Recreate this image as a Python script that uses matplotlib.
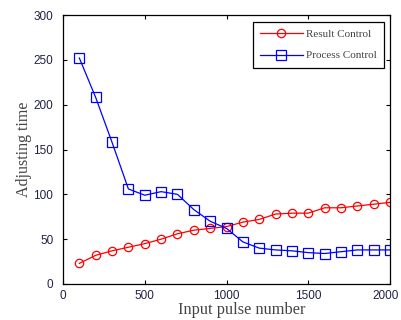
import matplotlib
matplotlib.use("Agg")
import matplotlib.pyplot as plt
from matplotlib.transforms import ScaledTranslation

x = [100, 200, 300, 400, 500, 600, 700, 800, 900, 1000,
     1100, 1200, 1300, 1400, 1500, 1600, 1700, 1800, 1900, 2000]
result_control = [23, 32, 37, 41, 45, 50, 56, 60, 62, 64,
                  69, 72, 78, 79, 79, 85, 85, 87, 89, 91]
process_control = [252, 208, 158, 106, 99, 103, 100, 83, 70, 62,
                   47, 40, 38, 37, 35, 34, 36, 38, 38, 38]
xticks = [0, 500, 1000, 1500, 2000]
yticks = [0, 50, 100, 150, 200, 250, 300]

W, H = 401, 320
fig = plt.figure(figsize=(W/100, H/100), dpi=100)
ax = fig.add_axes([63/W, 1-284/H, (390-63)/W, (284-15)/H])

ax.plot(x, result_control, color='red', marker='o', markersize=6,
        markerfacecolor='none', markeredgewidth=0.9, linewidth=0.9, label='Result Control')
ax.plot(x, process_control, color='blue', marker='s', markersize=6.5,
        markerfacecolor='none', markeredgewidth=0.9, linewidth=0.9, label='Process Control')

ax.set_xlim(0, 2000)
ax.set_ylim(0, 300)
ax.set_xticks(xticks)
ax.set_yticks(yticks)
ax.tick_params(direction='in', top=True, right=True, length=3, width=0.8,
               labelsize=8.5, colors='black')
ax.tick_params(axis='y', pad=7)
ax.tick_params(axis='x', pad=4)
for lab in ax.get_xticklabels() + ax.get_yticklabels():
    lab.set_family('Liberation Sans')
    lab.set_color('#222244')
# keep the last x tick label inside the picture
last = ax.get_xticklabels()[-1]
last.set_transform(last.get_transform() + ScaledTranslation(-4/100, 0, fig.dpi_scale_trans))
for s in ax.spines.values():
    s.set_linewidth(0.9)

ax.set_ylabel('Adjusting time', family='Liberation Serif', fontsize=11.5,
              color='#444444', labelpad=1)

fig.text(241.5/W, 1 - 310/H, 'Input pulse number', family='Liberation Serif',
         fontsize=11.8, color='#444444', ha='center', va='center')

leg = ax.legend(loc='upper right', prop={'family': 'Liberation Serif', 'size': 8},
                fancybox=False, edgecolor='black', framealpha=1,
                handlelength=3.8, handletextpad=0.3, borderpad=0.65,
                labelspacing=1.05, borderaxespad=0,
                bbox_to_anchor=((384-63)/327, (284-22)/269))
leg.get_frame().set_linewidth(0.9)
for t in leg.get_texts():
    t.set_color('#444444')

fig.savefig('out.png', dpi=100)
